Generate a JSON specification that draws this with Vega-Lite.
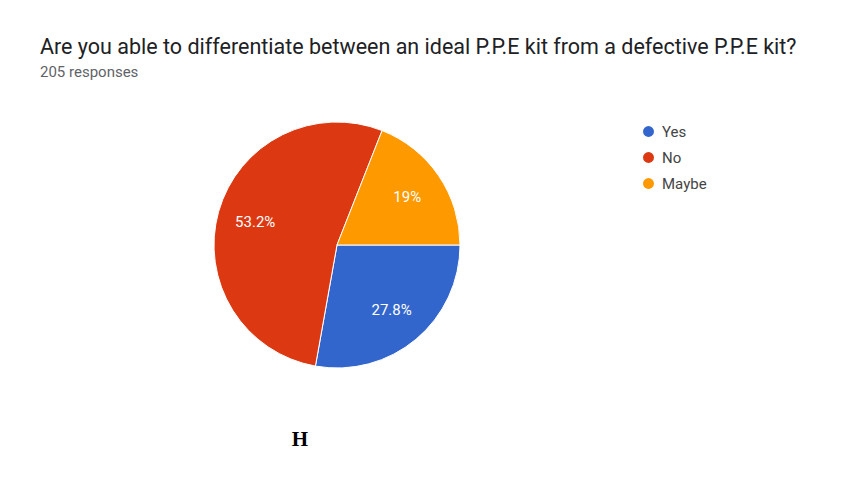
{
  "$schema": "https://vega.github.io/schema/vega-lite/v6.json",
  "width": 594,
  "height": 270,
  "autosize": "none",
  "padding": {"left": 40, "top": 110, "right": 214, "bottom": 122},
  "background": "white",
  "view": {"stroke": null},
  "title": {
    "text": "Are you able to differentiate between an ideal P.P.E kit from a defective P.P.E kit?",
    "subtitle": "205 responses",
    "anchor": "start",
    "frame": "group",
    "font": "Roboto",
    "fontSize": 21.5,
    "fontWeight": "normal",
    "color": "#202124",
    "subtitleFont": "Roboto",
    "subtitleFontSize": 15,
    "subtitleColor": "#5f6368",
    "subtitlePadding": 7,
    "offset": 30
  },
  "data": {
    "values": [
      {"answer": "Yes", "count": 57, "label": "27.8%", "order": 1},
      {"answer": "No", "count": 109, "label": "53.2%", "order": 2},
      {"answer": "Maybe", "count": 39, "label": "19%", "order": 3}
    ]
  },
  "layer": [
    {
      "mark": {"type": "arc", "outerRadius": 123, "stroke": "white", "strokeWidth": 1},
      "encoding": {
        "theta": {"field": "count", "type": "quantitative", "stack": true, "scale": {"range": [1.5708, 7.854]}},
        "order": {"field": "order", "type": "quantitative"},
        "color": {
          "field": "answer",
          "type": "nominal",
          "sort": ["Yes", "No", "Maybe"],
          "scale": {"domain": ["Yes", "No", "Maybe"], "range": ["#3366cc", "#dc3912", "#ff9900"]},
          "legend": {
            "orient": "none",
            "legendX": 601,
            "legendY": 14,
            "title": null,
            "symbolType": "circle",
            "symbolSize": 120,
            "symbolStrokeWidth": 0,
            "labelFont": "Roboto",
            "labelFontSize": 15,
            "labelColor": "#444444",
            "labelOffset": 6,
            "rowPadding": 10
          }
        }
      }
    },
    {
      "mark": {"type": "text", "radius": 85, "fill": "white", "fontSize": 15, "font": "Roboto"},
      "encoding": {
        "theta": {"field": "count", "type": "quantitative", "stack": true, "scale": {"range": [1.5708, 7.854]}},
        "order": {"field": "order", "type": "quantitative"},
        "text": {"field": "label", "type": "nominal"}
      }
    },
    {
      "data": {"values": [{"caption": "H"}]},
      "mark": {"type": "text", "font": "Liberation Serif", "fontWeight": "bold", "fontSize": 21, "dx": -37, "dy": 195, "fill": "black"},
      "encoding": {"text": {"field": "caption", "type": "nominal"}}
    }
  ]
}
